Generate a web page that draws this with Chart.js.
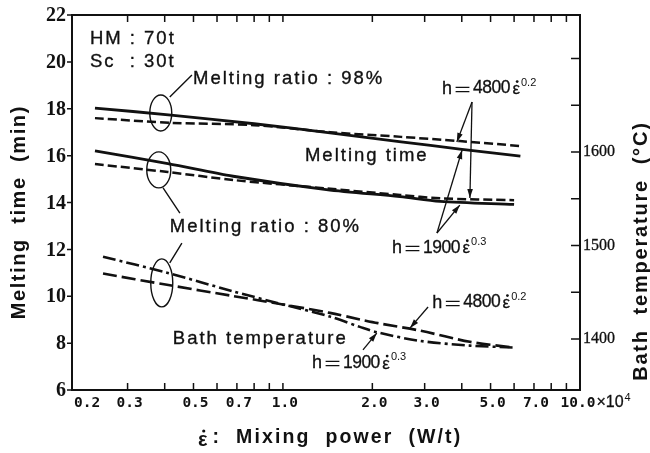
<!DOCTYPE html>
<html>
<head>
<meta charset="utf-8">
<script src="https://cdn.jsdelivr.net/npm/chart.js@4.4.1/dist/chart.umd.min.js"></script>
<style>
  html, body { margin: 0; padding: 0; background: #fff; }
  #chart { display: block; }
</style>
</head>
<body>
<canvas id="chart" width="650" height="453"></canvas>
<script>
// Mixing power (x10^4 W/t) and melting time (min) for melting ratio 98 %
const power98 = [0.233, 0.42, 0.8, 1.44, 2.5, 3.94, 6.3];
const time98Low = [18.03, 17.73, 17.36, 16.97, 16.59, 16.28, 15.98];   // h = 1900 e^0.3
const time98High = [17.6, 17.4, 17.3, 17.0, 16.8, 16.62, 16.41];       // h = 4800 e^0.2

// Melting ratio 80 %
const power80 = [0.233, 0.41, 0.68, 1.4, 2.48, 3.38, 6.0];
const time80Low = [16.2, 15.66, 15.12, 14.55, 14.25, 14.05, 13.92];
const time80High = [15.64, 15.3, 14.96, 14.6, 14.32, 14.18, 14.1];

// Bath temperature (deg C), right axis
const powerBath = [0.248, 0.407, 0.679, 1.0, 1.439, 1.816, 2.088, 2.893, 4.26, 5.95];
const bathLow = [1488, 1471, 1451, 1437, 1424, 1413, 1407, 1398, 1393, 1391];
const bathHigh = [1470, 1458, 1446, 1437, 1428, 1421, 1417, 1409, 1397, 1391];

// Axes
const xTicks = [0.3, 0.4, 0.5, 0.6, 0.7, 0.8, 0.9, 1, 2, 3, 4, 5, 6, 7, 8, 9];
const xLabels = [0.2, 0.3, 0.5, 0.7, 1, 2, 3, 5, 7, 10];
const timeTicks = [6, 8, 10, 12, 14, 16, 18, 20, 22];
const tempTicks = [1400, 1450, 1500, 1550, 1600, 1650, 1700];
const tempLabels = [1400, 1500, 1600];

const ink = '#111';

// annotations, in data units of x / left y
const notes = [
  { text: 'HM : 70t', x: 0.224, y: 21.0 },
  { text: 'Sc  : 30t', x: 0.224, y: 20.02 },
  { text: 'Melting ratio : 98%', x: 0.498, y: 19.29 },
  { text: 'Melting time', x: 1.186, y: 15.98 },
  { text: 'Melting ratio : 80%', x: 0.416, y: 12.98 },
  { text: 'Bath temperature', x: 0.426, y: 8.16 }
];
const formulas = [
  { coef: '4800', exp: '0.2', x: 3.43, y: 18.86 },
  { coef: '1900', exp: '0.3', x: 2.33, y: 12.07 },
  { coef: '4800', exp: '0.2', x: 3.18, y: 9.73 },
  { coef: '1900', exp: '0.3', x: 1.252, y: 7.15 }
];
const rings = [
  { x: 0.388, y: 17.82, rx: 11, ry: 18 },
  { x: 0.382, y: 15.39, rx: 12, ry: 18 },
  { x: 0.391, y: 10.57, rx: 11, ry: 24 }
];
const leaders = [
  [0.416, 18.5, 0.494, 19.44],
  [0.395, 14.62, 0.45, 13.55],
  [0.416, 11.42, 0.457, 12.27]
];
const arrows = [
  [4.33, 18.29, 3.85, 16.58],
  [4.33, 18.29, 4.26, 14.19],
  [3.3, 12.7, 4.01, 16.24],
  [3.3, 12.7, 3.94, 13.89],
  [3.08, 9.54, 2.68, 8.65],
  [1.86, 7.71, 2.07, 8.43]
];

const pts = (xs, ys) => xs.map((v, i) => ({ x: v, y: ys[i] }));

const line = (data, dash, width, axis) => ({
  data, borderColor: ink, borderWidth: width, borderDash: dash,
  pointRadius: 0, fill: false, tension: 0.3,
  yAxisID: axis || 'y'
});

function spaced(ctx, s, x, y, font, spacing, align, heft) {
  ctx.font = font;
  ctx.letterSpacing = spacing + 'px';
  const w = ctx.measureText(s).width - spacing;
  let left = x;
  if (align === 'center') left = x - w / 2;
  else if (align === 'right') left = x - w;
  ctx.textAlign = 'left';
  ctx.fillText(s, left, y);
  if (heft) {
    ctx.lineWidth = heft;
    ctx.strokeText(s, left, y);
  }
  ctx.letterSpacing = '0px';
  return left + w;
}

// small dot over an epsilon
function epsDot(ctx, left, width, top, r) {
  ctx.beginPath();
  ctx.arc(left + width / 2 + 1, top, r, 0, Math.PI * 2);
  ctx.fill();
}

function formula(ctx, px, py, coef, exp) {
  ctx.textBaseline = 'middle';
  let cx = spaced(ctx, 'h', px, py, '18px "Liberation Sans"', 0, 'left', 0.3);
  cx = spaced(ctx, '＝', cx + 1, py + 1, '19px "Noto Sans CJK JP"', 0);
  cx = spaced(ctx, coef, cx + 1, py, '17.5px "Liberation Sans"', -0.5, 'left', 0.3);
  ctx.font = '17px "Liberation Sans"';
  const ew = ctx.measureText('ε').width;
  spaced(ctx, 'ε', cx + 2, py + 1, '17px "Liberation Sans"', 0, 'left', 0.3);
  epsDot(ctx, cx + 2, ew, py - 7, 1.4);
  spaced(ctx, exp, cx + 3 + ew, py - 6, '11px "Liberation Sans"', 0);
}

function arrowHead(ctx, x0, y0, x1, y1) {
  const a = Math.atan2(y1 - y0, x1 - x0);
  const len = 9, half = 2.8;
  ctx.beginPath();
  ctx.moveTo(x1, y1);
  ctx.lineTo(x1 - len * Math.cos(a) + half * Math.sin(a), y1 - len * Math.sin(a) - half * Math.cos(a));
  ctx.lineTo(x1 - len * Math.cos(a) - half * Math.sin(a), y1 - len * Math.sin(a) + half * Math.cos(a));
  ctx.closePath();
  ctx.fill();
}

const frame = {
  id: 'frame',
  afterDatasetsDraw(chart) {
    const { ctx, chartArea: a, scales } = chart;
    const x = scales.x, y = scales.y, y2 = scales.y2;
    ctx.save();
    ctx.strokeStyle = ink;
    ctx.fillStyle = ink;
    ctx.setLineDash([]);

    // plot frame
    ctx.lineWidth = 2;
    ctx.strokeRect(a.left, a.top, a.right - a.left, a.bottom - a.top);

    // tick marks
    ctx.lineWidth = 1.5;
    ctx.beginPath();
    xTicks.forEach(v => {
      const px = x.getPixelForValue(v);
      ctx.moveTo(px, a.bottom); ctx.lineTo(px, a.bottom - 7);
      ctx.moveTo(px, a.top); ctx.lineTo(px, a.top + 7);
    });
    timeTicks.forEach(v => {
      const py = y.getPixelForValue(v);
      ctx.moveTo(a.left, py); ctx.lineTo(a.left - 5, py);
    });
    tempTicks.forEach(v => {
      const py = y2.getPixelForValue(v);
      ctx.moveTo(a.right, py); ctx.lineTo(a.right - 9, py);
    });
    ctx.stroke();

    // tick labels
    ctx.textBaseline = 'middle';
    timeTicks.forEach(v => {
      spaced(ctx, String(v), a.left - 6, y.getPixelForValue(v) + 1, 'bold 20px "Liberation Sans Narrow"', 0, 'right');
    });
    tempLabels.forEach(v => {
      spaced(ctx, String(v), a.right + 3, y2.getPixelForValue(v), '16px "Liberation Sans Narrow"', 0, 'left', 0.3);
    });
    const labelFont = 'bold 14.5px "DejaVu Sans Mono"';
    xLabels.forEach((v, i) => {
      const px = x.getPixelForValue(v);
      const s = v.toFixed(1);
      if (i === 0) {
        spaced(ctx, s, a.left + 2, a.bottom + 13, labelFont, 0, 'left');
      } else if (v === 10) {
        const end = spaced(ctx, s, px - 2, a.bottom + 13, labelFont, 0, 'center');
        const end2 = spaced(ctx, '×10', end + 1, a.bottom + 13, '16px "Liberation Sans"', 0, 'left', 0.3);
        spaced(ctx, '4', end2 + 1, a.bottom + 8, '11px "Liberation Sans"', 0, 'left');
      } else {
        spaced(ctx, s, px + 2, a.bottom + 13, labelFont, 0, 'center');
      }
    });

    // axis titles
    ctx.textBaseline = 'middle';
    ctx.font = 'bold 20px "Liberation Sans"';
    const ew = ctx.measureText('ε').width;
    const tx = 198;
    spaced(ctx, 'ε', tx, 440, 'bold 20px "Liberation Sans"', 0);
    epsDot(ctx, tx, ew, 431, 1.6);
    spaced(ctx, ':  Mixing  power  (W/t)', tx + ew + 5, 438, 'bold 19.5px "Liberation Sans"', 2.1);

    ctx.save();
    ctx.translate(19, 213);
    ctx.rotate(-Math.PI / 2);
    spaced(ctx, 'Melting  time  (min)', 0, 0, 'bold 20px "Liberation Sans"', 1.6, 'center');
    ctx.restore();

    ctx.save();
    ctx.translate(641, 252);
    ctx.rotate(-Math.PI / 2);
    spaced(ctx, 'Bath  temperature  (°C)', 0, 0, 'bold 20px "Liberation Sans"', 1.8, 'center');
    ctx.restore();

    // notes
    notes.forEach(n => {
      spaced(ctx, n.text, x.getPixelForValue(n.x), y.getPixelForValue(n.y), '18.5px "Liberation Sans"', 2, 'left', 0.35);
    });
    formulas.forEach(f => formula(ctx, x.getPixelForValue(f.x), y.getPixelForValue(f.y), f.coef, f.exp));

    // grouping rings with leader lines
    ctx.lineWidth = 1.4;
    rings.forEach(r => {
      ctx.beginPath();
      ctx.ellipse(x.getPixelForValue(r.x), y.getPixelForValue(r.y), r.rx, r.ry, 0, 0, Math.PI * 2);
      ctx.stroke();
    });
    ctx.beginPath();
    leaders.forEach(l => {
      ctx.moveTo(x.getPixelForValue(l[0]), y.getPixelForValue(l[1]));
      ctx.lineTo(x.getPixelForValue(l[2]), y.getPixelForValue(l[3]));
    });
    ctx.stroke();

    // arrows to curves
    ctx.lineWidth = 1.3;
    arrows.forEach(l => {
      const x0 = x.getPixelForValue(l[0]), y0 = y.getPixelForValue(l[1]);
      const x1 = x.getPixelForValue(l[2]), y1 = y.getPixelForValue(l[3]);
      ctx.beginPath();
      ctx.moveTo(x0, y0);
      ctx.lineTo(x1, y1);
      ctx.stroke();
      arrowHead(ctx, x0, y0, x1, y1);
    });

    ctx.restore();
  }
};

new Chart(document.getElementById('chart'), {
  type: 'line',
  data: {
    datasets: [
      line(pts(power98, time98Low), [], 2.8),
      line(pts(power98, time98High), [9, 4], 2.5),
      line(pts(power80, time80Low), [], 2.8),
      line(pts(power80, time80High), [9, 4], 2.5),
      line(pts(powerBath, bathLow), [13, 4, 3, 4], 2.6, 'y2'),
      line(pts(powerBath, bathHigh), [14, 5], 2.6, 'y2')
    ]
  },
  options: {
    responsive: false,
    devicePixelRatio: 1,
    animation: false,
    layout: { padding: { left: 72, right: 70, top: 15, bottom: 63 } },
    plugins: { legend: { display: false }, tooltip: { enabled: false } },
    scales: {
      x: { type: 'logarithmic', min: 0.195, max: 10, display: false },
      y: { type: 'linear', min: 6, max: 22, display: false },
      y2: { type: 'linear', position: 'right', min: 1345.5, max: 1746.5, display: false }
    }
  },
  plugins: [frame]
});
</script>
</body>
</html>
